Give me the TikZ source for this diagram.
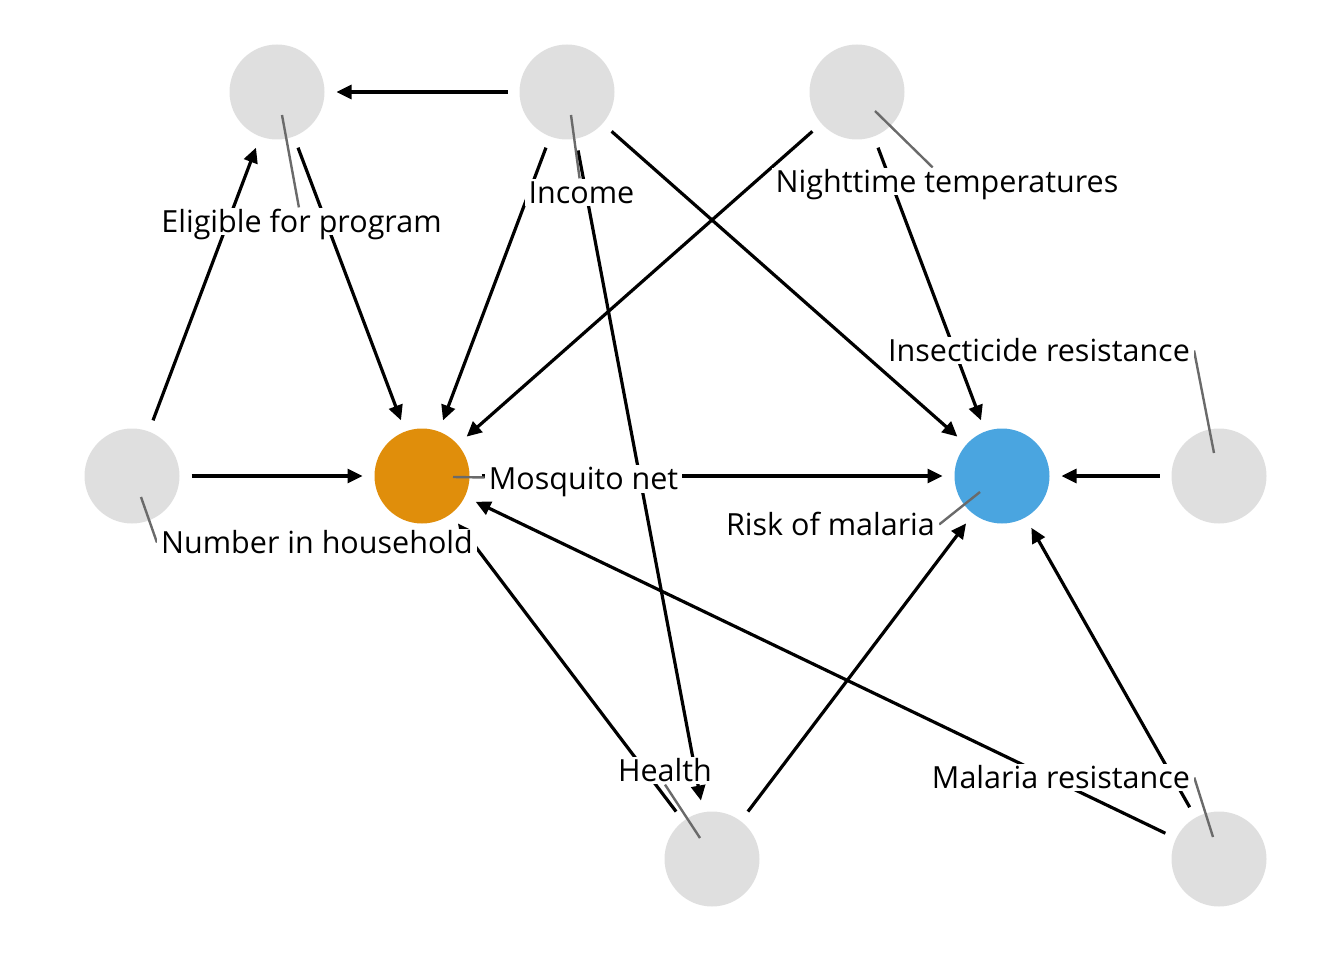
\documentclass[tikz,border=0pt]{standalone}
\usepackage{fontspec}
\setmainfont{Open Sans}
\usetikzlibrary{arrows.meta,calc}
\definecolor{nodegray}{HTML}{DFDFDF}
\definecolor{netorange}{HTML}{E08E0B}
\definecolor{riskblue}{HTML}{4AA5E0}
\definecolor{leadgray}{HTML}{6A6A6A}
\pgfdeclarelayer{circ}
\pgfdeclarelayer{edges}
\pgfsetlayers{circ,edges,main}
\begin{document}
\begin{tikzpicture}[x=1pt,y=-1pt,
  dagnode/.style={circle,minimum size=95pt,inner sep=0pt,outer sep=0pt,fill=nodegray},
  edge/.style={line width=3.2pt,-{Triangle[length=15pt,width=14pt]},shorten >=12pt,shorten <=12pt},
  leader/.style={line width=2.4pt,draw=leadgray},
  lab/.style={fill=white,inner xsep=4pt,inner ysep=3pt,text height=21.8pt,text depth=0pt,font=\fontsize{30.5}{36}\selectfont}]
\useasboundingbox (0,0) rectangle (1344,960);
\begin{pgfonlayer}{circ}
\node[dagnode] (elig) at (277,92) {};
\node[dagnode] (inc) at (567,92) {};
\node[dagnode] (night) at (857,92) {};
\node[dagnode] (num) at (132,476) {};
\node[dagnode,fill=netorange] (net) at (422,476) {};
\node[dagnode,fill=riskblue] (risk) at (1002,476) {};
\node[dagnode] (ins) at (1219,476) {};
\node[dagnode] (health) at (712,859) {};
\node[dagnode] (mal) at (1219,859) {};
\end{pgfonlayer}
% labels
\node[lab] (lelig) at (301.5,221.5) {Eligible for program};
\node[lab] (linc) at (581.5,192.5) {Income};
\node[lab] (lnight) at (947,181.5) {Nighttime temperatures};
\node[lab] (lins) at (1039,350.5) {Insecticide resistance};
\node[lab] (lnet) at (583.5,479) {Mosquito net};
\node[lab] (lrisk) at (830.5,524.5) {Risk of malaria};
\node[lab] (lnum) at (317,542.5) {Number in household};
\node[lab] (lhealth) at (665,770.5) {Health};
\node[lab] (lmal) at (1061,777.5) {Malaria resistance};
\begin{pgfonlayer}{edges}
\draw[edge] (inc) -- (elig);
\draw[edge] (num) -- (elig);
\draw[edge] (elig) -- (net);
\draw[edge] (inc) -- (net);
\draw[edge] (night) -- (net);
\draw[edge] (inc) -- (risk);
\draw[edge] (night) -- (risk);
\draw[edge] (inc) -- (health);
\draw[edge] (num) -- (net);
\draw[edge] (net) -- (risk);
\draw[edge] (ins) -- (risk);
\draw[edge] (health) -- (net);
\draw[edge] (health) -- (risk);
\draw[edge] (mal) -- (net);
\draw[edge] (mal) -- (risk);
% leader lines
\draw[leader] ($(elig)+(5,23)$) -- (lelig);
\draw[leader] ($(inc)+(4,23)$) -- (linc);
\draw[leader] ($(night)+(18,19)$) -- (lnight);
\draw[leader] ($(ins)+(-5,-23)$) -- (lins.east);
\draw[leader] ($(net)+(31,1)$) -- (lnet);
\draw[leader] ($(risk)+(-22,16)$) -- (lrisk.east);
\draw[leader] ($(num)+(9,21)$) -- (lnum.west);
\draw[leader] ($(health)+(-12,-21)$) -- (lhealth.south);
\draw[leader] ($(mal)+(-6,-22)$) -- (lmal.east);
\end{pgfonlayer}
\end{tikzpicture}
\end{document}
